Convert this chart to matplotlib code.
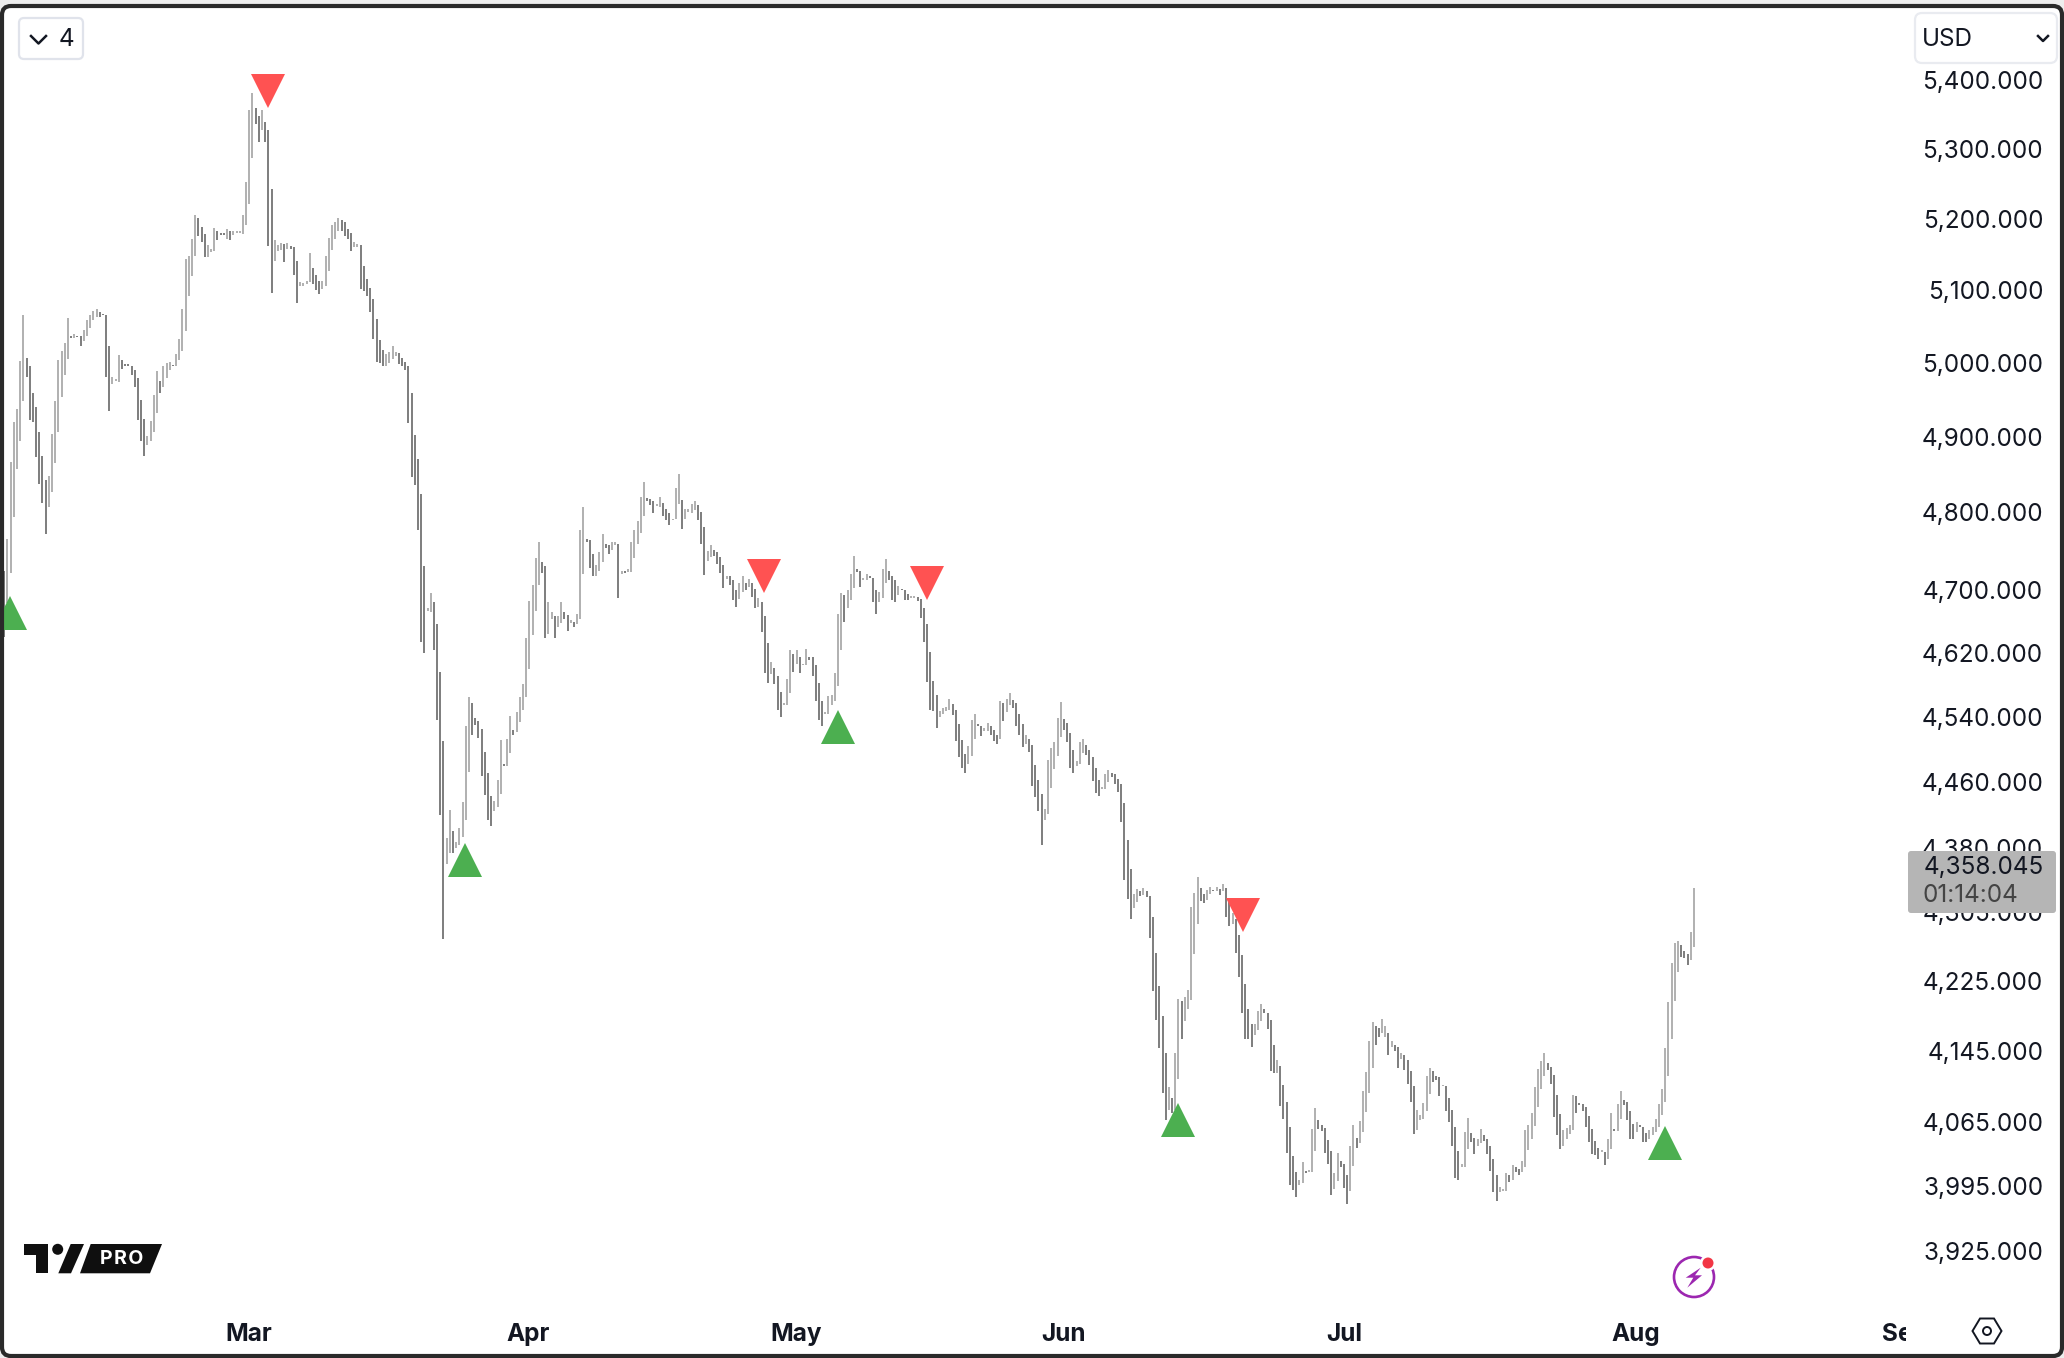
import matplotlib
matplotlib.use("Agg")
import matplotlib.pyplot as plt
from matplotlib.patches import FancyBboxPatch, Polygon, Circle
from matplotlib.transforms import Bbox

plt.rcParams["font.family"] = ["Inter", "DejaVu Sans"]

# bar ranges, about 10 bars per row
bar_high = [
    4724, 4765, 4867, 4920, 4937, 5002, 5066, 5007, 4995, 4959,
    4940, 4907, 4874, 4842, 4848, 4904, 4948, 5003, 5016, 5027,
    5061, 5036, 5039, 5037, 5036, 5045, 5058, 5066, 5071, 5073,
    5069, 5067, 5066, 5023, 4981, 4978, 5010, 5003, 4998, 4998,
    4996, 4990, 4979, 4950, 4924, 4901, 4921, 4956, 4988, 4975,
    4995, 4999, 5001, 4997, 5012, 5032, 5074, 5143, 5148, 5172,
    5206, 5201, 5188, 5178, 5163, 5158, 5187, 5183, 5180, 5180, 5185,
    5182, 5182, 5182, 5182, 5205, 5252, 5357, 5382, 5359, 5347,
    5356, 5339, 5328, 5242, 5170, 5163, 5166, 5164, 5166, 5161,
    5160, 5141, 5111, 5110, 5113, 5152, 5131, 5121, 5113, 5112,
    5147, 5173, 5191, 5196, 5201, 5198, 5195, 5186, 5180, 5167,
    5164, 5163, 5133, 5115, 5103, 5087, 5060, 5031, 5017, 5012,
    5014, 5023, 5014, 5013, 5006, 5001, 4996, 4959, 4902, 4871,
    4824, 4730, 4677, 4696, 4684, 4656, 4596, 4510, 4392, 4426,
    4401, 4388, 4404, 4436, 4529, 4564, 4557, 4538, 4535, 4525,
    4496, 4471, 4443, 4437, 4463, 4511, 4482, 4512, 4541, 4524,
    4546, 4565, 4581, 4638, 4686, 4706, 4741, 4762, 4735, 4730,
    4684, 4671, 4667, 4666, 4684, 4672, 4668, 4661, 4659, 4669,
    4777, 4807, 4766, 4764, 4746, 4732, 4748, 4772, 4759, 4757,
    4762, 4762, 4759, 4724, 4724, 4727, 4761, 4777, 4789, 4820,
    4840, 4819, 4817, 4815, 4811, 4820, 4813, 4805, 4799, 4792,
    4832, 4851, 4816, 4804, 4804, 4811, 4815, 4810, 4800, 4781,
    4750, 4758, 4751, 4748, 4742, 4732, 4718, 4717, 4712, 4700,
    4708, 4718, 4708, 4714, 4709, 4701, 4690, 4684, 4666, 4632,
    4608, 4601, 4591, 4571, 4557, 4587, 4623, 4618, 4624, 4615,
    4606, 4625, 4615, 4614, 4604, 4582, 4560, 4546, 4566, 4567,
    4595, 4669, 4696, 4693, 4700, 4720, 4744, 4726, 4724, 4715,
    4720, 4718, 4715, 4700, 4697, 4726, 4740, 4724, 4718, 4712,
    4705, 4701, 4699, 4694, 4692, 4692, 4691, 4688, 4677, 4656,
    4621, 4585, 4567, 4547, 4551, 4552, 4562, 4556, 4549, 4531,
    4511, 4494, 4504, 4536, 4543, 4531, 4528, 4526, 4532, 4528,
    4524, 4517, 4560, 4557, 4562, 4569, 4561, 4557, 4543, 4531,
    4517, 4512, 4505, 4481, 4463, 4445, 4427, 4487, 4501, 4509,
    4539, 4558, 4537, 4532, 4520, 4499, 4486, 4509, 4512, 4505,
    4499, 4490, 4477, 4463, 4454, 4470, 4475, 4471, 4470, 4464,
    4457, 4435, 4390, 4355, 4326, 4332, 4329, 4333, 4330, 4324,
    4299, 4257, 4219, 4184, 4142, 4104, 4092, 4143, 4204, 4202,
    4206, 4214, 4311, 4327, 4346, 4333, 4326, 4331, 4334, 4331,
    4334, 4332, 4338, 4333, 4318, 4303, 4297, 4278, 4254, 4221,
    4192, 4175, 4175, 4190, 4198, 4192, 4188, 4180, 4151, 4135,
    4128, 4106, 4088, 4060, 4028, 4010, 4001, 4021, 4011, 4012,
    4058, 4081, 4068, 4062, 4059, 4045, 4033, 4009, 4031, 4022,
    4019, 4007, 4039, 4062, 4048, 4066, 4100, 4121, 4156, 4178,
    4173, 4171, 4181, 4173, 4165, 4156, 4151, 4149, 4142, 4140,
    4134, 4122, 4105, 4079, 4073, 4086, 4116, 4126, 4122, 4117,
    4115, 4107, 4105, 4092, 4079, 4060, 4033, 4019, 4054, 4070,
    4053, 4048, 4047, 4057, 4051, 4047, 4039, 4025, 4007, 3994,
    3992, 4009, 4007, 4018, 4016, 4013, 4022, 4056, 4062, 4075,
    4104, 4124, 4133, 4142, 4131, 4127, 4118, 4095, 4074, 4056,
    4059, 4062, 4095, 4094, 4086, 4085, 4082, 4072, 4057, 4044,
    4037, 4034, 4032, 4047, 4075, 4057, 4085, 4100, 4090, 4088,
    4078, 4063, 4065, 4062, 4060, 4053, 4056, 4060, 4069, 4085,
    4102, 4148, 4200, 4245, 4269, 4271, 4266, 4259, 4256, 4281, 4333,
]
bar_low = [
    4640, 4683, 4722, 4794, 4857, 4895, 4948, 4981, 4923, 4920,
    4873, 4838, 4813, 4772, 4807, 4827, 4865, 4906, 4954, 4983,
    5005, 5034, 5034, 5035, 5023, 5030, 5036, 5047, 5058, 5063,
    5063, 5065, 4981, 4934, 4971, 4975, 4974, 4991, 4996, 4996,
    4983, 4967, 4922, 4894, 4875, 4889, 4895, 4907, 4932, 4959,
    4967, 4979, 4990, 4995, 4995, 5003, 5016, 5043, 5092, 5120,
    5147, 5176, 5167, 5146, 5146, 5153, 5154, 5170, 5177, 5177, 5172,
    5170, 5177, 5180, 5180, 5178, 5191, 5221, 5287, 5336, 5310,
    5328, 5310, 5161, 5096, 5141, 5155, 5156, 5139, 5158, 5158,
    5121, 5082, 5105, 5106, 5108, 5111, 5108, 5100, 5094, 5101,
    5106, 5127, 5156, 5171, 5183, 5183, 5176, 5172, 5155, 5160,
    5160, 5102, 5098, 5091, 5069, 5033, 5001, 5000, 4996, 4996,
    5000, 5005, 5009, 4998, 4996, 4990, 4919, 4846, 4836, 4777,
    4633, 4619, 4673, 4672, 4624, 4536, 4420, 4273, 4361, 4375,
    4374, 4380, 4384, 4394, 4414, 4472, 4517, 4530, 4514, 4467,
    4444, 4414, 4407, 4425, 4430, 4445, 4480, 4479, 4495, 4518,
    4521, 4533, 4548, 4564, 4600, 4642, 4673, 4706, 4722, 4638,
    4644, 4663, 4638, 4652, 4658, 4663, 4647, 4657, 4653, 4656,
    4662, 4720, 4762, 4728, 4717, 4718, 4724, 4736, 4754, 4746,
    4751, 4758, 4689, 4720, 4722, 4723, 4723, 4741, 4759, 4773,
    4795, 4815, 4810, 4799, 4808, 4807, 4796, 4790, 4783, 4790,
    4791, 4811, 4778, 4791, 4800, 4799, 4803, 4790, 4759, 4719,
    4737, 4742, 4744, 4733, 4721, 4702, 4714, 4706, 4687, 4678,
    4688, 4697, 4700, 4704, 4691, 4676, 4678, 4646, 4595, 4582,
    4593, 4581, 4549, 4540, 4555, 4555, 4570, 4596, 4606, 4594,
    4604, 4604, 4611, 4591, 4560, 4536, 4528, 4544, 4544, 4554,
    4560, 4578, 4623, 4659, 4676, 4687, 4702, 4723, 4703, 4713,
    4713, 4715, 4684, 4669, 4684, 4690, 4708, 4712, 4687, 4684,
    4693, 4699, 4687, 4687, 4690, 4690, 4685, 4664, 4634, 4583,
    4548, 4547, 4526, 4540, 4543, 4547, 4548, 4542, 4510, 4491,
    4477, 4471, 4482, 4492, 4513, 4528, 4516, 4522, 4523, 4518,
    4510, 4507, 4512, 4535, 4546, 4554, 4551, 4528, 4517, 4503,
    4507, 4497, 4455, 4442, 4425, 4384, 4414, 4421, 4453, 4476,
    4492, 4515, 4524, 4509, 4477, 4471, 4480, 4482, 4495, 4493,
    4481, 4461, 4447, 4443, 4452, 4451, 4460, 4466, 4457, 4448,
    4412, 4343, 4320, 4296, 4309, 4317, 4324, 4325, 4322, 4274,
    4213, 4180, 4148, 4098, 4067, 4079, 4075, 4079, 4113, 4158,
    4179, 4192, 4203, 4256, 4291, 4318, 4315, 4319, 4326, 4329,
    4329, 4325, 4329, 4299, 4288, 4291, 4257, 4229, 4188, 4158,
    4158, 4149, 4163, 4168, 4179, 4188, 4170, 4122, 4120, 4120,
    4083, 4069, 4031, 3996, 3991, 3983, 3996, 3998, 4009, 4010,
    4010, 4033, 4057, 4055, 4031, 4019, 3985, 3992, 4000, 4016,
    3993, 3975, 3990, 4017, 4037, 4042, 4054, 4076, 4098, 4126,
    4151, 4160, 4165, 4160, 4140, 4149, 4145, 4126, 4136, 4123,
    4108, 4087, 4052, 4056, 4067, 4069, 4077, 4096, 4110, 4112,
    4094, 4105, 4077, 4065, 4039, 4004, 4002, 4016, 4016, 4035,
    4043, 4030, 4039, 4042, 4044, 4030, 4011, 3988, 3979, 3988,
    3990, 3989, 3999, 4002, 4010, 4007, 4010, 4016, 4034, 4047,
    4061, 4082, 4102, 4117, 4123, 4108, 4071, 4051, 4035, 4039,
    4047, 4052, 4056, 4075, 4084, 4077, 4060, 4043, 4030, 4029,
    4024, 4032, 4018, 4024, 4035, 4055, 4055, 4069, 4084, 4068,
    4047, 4047, 4054, 4060, 4043, 4043, 4047, 4051, 4054, 4060,
    4073, 4087, 4116, 4158, 4202, 4235, 4252, 4251, 4243, 4249, 4264,
]
# u = up bar, d = down bar
bar_side = "".join([
    "duuuuuuddd", "dddduuuuuu", "ududduuuuu", "dddduuuddd", "ddddduuuud",
    "uuuduuuuuu", "uddduuudddu", "duuuuuuudd", "uddduuudud", "dduuuudddu",
    "uuuuuddddu", "uddddddddu", "uuuddddddd", "dduudddduu", "duuuuudddd",
    "ddduuuduud", "uuuuuuuudd", "uuduuddudu", "uuddduuudd", "uududuuuuu",
    "uddduudddu", "uuduuuuddd", "uudddduddd", "uududduddd", "uddduuudud",
    "uuddddduuu", "uuuduuuddu", "uddduuuddd", "uddduudddd", "ddduuuuddd",
    "dduuudduud", "dduduudddd", "uddddduuuu", "uudddduuud", "dddduuuddd",
    "dddduududd", "ddddduduud", "uuuuudduud", "ududdudddd", "dduuuddddu",
    "dddddduudu", "uuddddduud", "dduuduuuuu", "dduududdud", "ddduuuuudd",
    "duddddduuu", "dduudddddu", "uududduuuu", "uuuudddddu", "uuuddddddd",
    "duduuduudd", "dduddduuuu", "uuuuuudddu" + "u",
])

# signal triangles: bar number and price level
sell_bars = [83.9, 239.8, 291.1, 390.2]
sell_prices = [5384, 4717, 4708, 4301]
buy_bars = [2.8, 145.8, 263.0, 369.9, 522.9]
buy_prices = [4670, 4366, 4527, 4068, 4042]

price_ticks = [5400, 5300, 5200, 5100, 5000, 4900, 4800, 4700, 4620, 4540,
               4460, 4380, 4305, 4225, 4145, 4065, 3995, 3925]
month_bars = [77.9, 165.6, 249.8, 333.9, 422.0, 513.8, 598.3]
month_labels = ["Mar", "Apr", "May", "Jun", "Jul", "Aug", "Sep"]
last_price = "4,358.045"
countdown = "01:14:04"

UP = "#b2b2b2"
DOWN = "#808080"
RED = "#ff5252"
GREEN = "#4caf50"
INK = "#131722"

fig = plt.figure(figsize=(20.64, 13.58), dpi=100, facecolor="#eeeeee")

# white rounded page behind the chart
back = fig.add_axes([0, 0, 1, 1], zorder=0)
back.set_xlim(0, 2064)
back.set_ylim(1358, 0)
back.axis("off")
back.add_patch(FancyBboxPatch((2, 6), 2060, 1350, boxstyle="round,pad=0,rounding_size=9",
                              fc="white", ec="none"))

ax = fig.add_axes([0, 0, 1, 1], zorder=1)
ax.patch.set_alpha(0)
ax.set_yscale("log")
ax.set_xlim(-0.351, 648.3)
ax.set_ylim(3812, 5519.5)
for s in ax.spines.values():
    s.set_visible(False)

bar_x = list(range(1, len(bar_high) + 1))
colors = [UP if s == "u" else DOWN for s in bar_side]
ax.vlines(bar_x, bar_low, bar_high, colors=colors, linewidth=1.44, capstyle="butt")
ax.plot(sell_bars, sell_prices, ls="none", marker="v", ms=23.8, mfc=RED, mew=0, zorder=3)
ax.plot(buy_bars, buy_prices, ls="none", marker="^", ms=23.8, mfc=GREEN, mew=0, zorder=3)

ax.yaxis.tick_right()
ax.minorticks_off()
ax.set_yticks(price_ticks)
ax.set_yticklabels([f"{p:,.3f}" for p in price_ticks])
ax.tick_params(axis="y", which="both", length=0, pad=-15, labelsize=17.5, labelcolor=INK)
for lab in ax.get_yticklabels():
    lab.set_ha("right")

ax.set_xticks(month_bars)
ax.set_xticklabels(month_labels, fontweight="bold")
ax.tick_params(axis="x", length=0, pad=-25, labelsize=17.5, labelcolor=INK)
# the last month is cut off by the time axis edge
sep = ax.get_xticklabels()[-1]
sep.set_clip_on(True)
sep.set_clip_box(Bbox([[0, 0], [1905.7, 1358]]))

ui = fig.add_axes([0, 0, 1, 1], zorder=2)
ui.set_xlim(0, 2064)
ui.set_ylim(1358, 0)
ui.axis("off")

# collapse button and currency button
ui.add_patch(FancyBboxPatch((19, 18), 64, 41, boxstyle="round,pad=0,rounding_size=5",
                            fc="white", ec="#e0e3eb", lw=1.6))
ui.plot([31, 38.5, 46], [36, 43.5, 36], color=INK, lw=1.8)
ui.text(66, 40, "4", ha="center", va="center", fontsize=17.5, color=INK)
ui.add_patch(FancyBboxPatch((1915, 13), 142, 50, boxstyle="round,pad=0,rounding_size=7",
                            fc="white", ec="#e9ebf0", lw=1.6))
ui.text(1922, 39.5, "USD", ha="left", va="center", fontsize=17.5, color=INK)
ui.plot([2038, 2043, 2048], [36, 41, 36], color=INK, lw=1.8)

# last price tag
ui.add_patch(FancyBboxPatch((1908, 851), 148, 62, boxstyle="round,pad=0,rounding_size=3",
                            fc="#b5b5b5", ec="none"))
ui.text(2044, 868, last_price, ha="right", va="center", fontsize=17.5, color=INK)
ui.text(1923, 896, countdown, ha="left", va="center", fontsize=17.5, color="#444444")

# logo
ui.add_patch(Polygon([(24, 1244), (47.7, 1244), (47.7, 1273.3), (36, 1273.3), (36, 1255), (24, 1255)],
                     fc="#0f0f0f", ec="none"))
ui.add_patch(Circle((57.7, 1249.3), 5.5, fc="#0f0f0f", ec="none"))
ui.add_patch(Polygon([(70.7, 1244), (84, 1244), (71, 1273.3), (58.3, 1273.3)], fc="#0f0f0f", ec="none"))
ui.add_patch(Polygon([(90.7, 1244), (162, 1244), (150, 1273.3), (80, 1273.3)], fc="#0f0f0f", ec="none"))
ui.text(121.7, 1259, "P\u200aR\u200aO", ha="center", va="center", fontsize=14, fontweight="bold", color="white")

# lightning badge
ui.add_patch(Circle((1694, 1277), 20, fc="none", ec="#9c27b0", lw=1.9))
ui.add_patch(Polygon([(1700.7, 1267.7), (1685.7, 1277.7), (1693.3, 1277.7), (1687.3, 1287.7),
                      (1702, 1275.3), (1695, 1275.3)], fc="#9c27b0", ec="none"))
ui.add_patch(Circle((1708, 1263), 8, fc="white", ec="none"))
ui.add_patch(Circle((1708, 1263), 5.5, fc="#f23645", ec="none"))

# settings hexagon
ui.add_patch(Polygon([(1972.5, 1331), (1980, 1318.5), (1994, 1318.5), (2001.5, 1331),
                      (1994, 1343.5), (1980, 1343.5)], fc="none", ec=INK, lw=1.4))
ui.add_patch(Circle((1987, 1331), 4, fc="none", ec=INK, lw=1.4))

# window frame
ui.add_patch(FancyBboxPatch((2, 6), 2060, 1350, boxstyle="round,pad=0,rounding_size=9",
                            fc="none", ec="#2a2a2a", lw=3))

fig.savefig("out.png", dpi=100, facecolor=fig.get_facecolor())
